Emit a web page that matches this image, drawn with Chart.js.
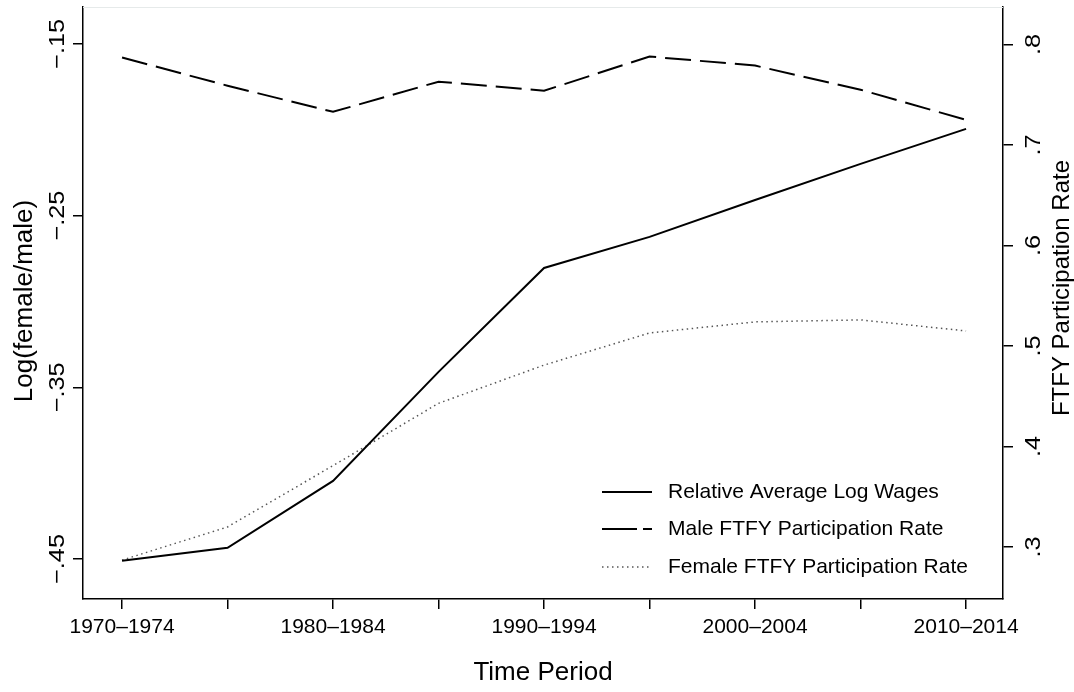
<!DOCTYPE html>
<html>
<head>
<meta charset="utf-8">
<script src="https://cdn.jsdelivr.net/npm/chart.js@4.4.1/dist/chart.umd.min.js"></script>
<style>
  html, body { margin: 0; padding: 0; background: #fff; }
  canvas { display: block; }
</style>
</head>
<body>
<canvas id="gapChart" width="1074" height="692"></canvas>
<script>
const periods = ['1970–1974', '1975–1979', '1980–1984', '1985–1989', '1990–1994',
                 '1995–1999', '2000–2004', '2005–2009', '2010–2014'];

// log(female/male) average wage ratio, left axis
const wageGap = [-0.451, -0.4435, -0.4045, -0.341, -0.2805, -0.2624, -0.2409, -0.2199, -0.1995];

// full-time full-year participation rates, right axis
const maleRate = [0.787, 0.759, 0.733, 0.763, 0.754, 0.788, 0.779, 0.755, 0.725];
const femaleRate = [0.287, 0.320, 0.381, 0.443, 0.481, 0.513, 0.524, 0.526, 0.515];

const leftTicks = [-0.45, -0.35, -0.25, -0.15];
const rightTicks = [0.3, 0.4, 0.5, 0.6, 0.7, 0.8];

const FONT = '"Liberation Sans", Arial, Helvetica, sans-serif';

const points = arr => arr.map((v, i) => ({ x: i, y: v }));
const fmt = v => {
  const s = Math.abs(v).toFixed(2).replace(/0$/, '').replace(/^0/, '');
  return (v < 0 ? '\u2212' : '') + s;
};

// tick labels, axis titles and the legend are drawn by hand (rotated text, legend inside the plot)
const stataText = {
  id: 'stataText',
  afterDraw(chart) {
    const { ctx, chartArea, scales } = chart;
    ctx.save();
    ctx.fillStyle = '#000';

    // faint outline across the top of the plot region
    ctx.strokeStyle = '#e6eaea';
    ctx.lineWidth = 1;
    ctx.beginPath();
    ctx.moveTo(chartArea.left, chartArea.top + 0.5);
    ctx.lineTo(chartArea.right, chartArea.top + 0.5);
    ctx.stroke();

    // vertical text reading bottom to top; stretch widens it along the text
    const vtext = (txt, x, y, size, stretch = 1) => {
      ctx.save();
      ctx.translate(x, y);
      ctx.rotate(-Math.PI / 2);
      ctx.scale(stretch, 1);
      ctx.font = size + 'px ' + FONT;
      ctx.textAlign = 'center';
      ctx.textBaseline = 'alphabetic';
      ctx.fillText(txt, 0, 0);
      ctx.restore();
    };

    leftTicks.forEach(v => vtext(fmt(v), 64, scales.y.getPixelForValue(v), 22, 1.15));
    rightTicks.forEach(v => vtext(fmt(v), 1040, scales.y1.getPixelForValue(v), 22, 1.15));

    vtext('Log(female/male)', 32, 301, 26);
    vtext('FTFY Participation Rate', 1069, 288, 24);

    ctx.font = '26px ' + FONT;
    ctx.textAlign = 'center';
    ctx.textBaseline = 'alphabetic';
    ctx.fillText('Time Period', 543, 680);

    // legend
    const rows = [492, 529, 567];
    ctx.font = '21px ' + FONT;
    ctx.textAlign = 'left';
    ctx.textBaseline = 'middle';
    chart.data.datasets.forEach((ds, i) => {
      const y = rows[i];
      ctx.strokeStyle = ds.borderColor;
      ctx.lineWidth = ds.borderWidth;
      ctx.beginPath();
      if (ds.legendDash) ctx.setLineDash(ds.legendDash);
      ctx.moveTo(602, y);
      ctx.lineTo(652, y);
      ctx.stroke();
      ctx.setLineDash([]);
      ctx.fillStyle = '#000';
      ctx.fillText(ds.label, 668, y);
    });
    ctx.restore();
  }
};

const axisGrid = { display: true, drawOnChartArea: false, drawTicks: true, tickLength: 10, color: '#000', lineWidth: 1.5 };
const axisBorder = { display: true, color: '#000', width: 1.5 };

new Chart(document.getElementById('gapChart'), {
  type: 'line',
  data: {
    datasets: [{
      label: 'Relative Average Log Wages',
      data: points(wageGap),
      yAxisID: 'y',
      borderColor: '#000',
      borderWidth: 2,
      pointRadius: 0,
      tension: 0
    }, {
      label: 'Male FTFY Participation Rate',
      data: points(maleRate),
      yAxisID: 'y1',
      borderColor: '#000',
      borderWidth: 2,
      borderDash: [26, 9],
      legendDash: [35, 6, 9, 100],
      pointRadius: 0,
      tension: 0
    }, {
      label: 'Female FTFY Participation Rate',
      data: points(femaleRate),
      yAxisID: 'y1',
      borderColor: '#555',
      borderWidth: 1.5,
      borderDash: [1.5, 3.5],
      legendDash: [1.5, 3.5],
      pointRadius: 0,
      tension: 0
    }]
  },
  options: {
    responsive: false,
    animation: false,
    layout: { padding: { top: 7 } },
    plugins: {
      legend: { display: false },
      tooltip: { enabled: false }
    },
    scales: {
      x: {
        type: 'linear',
        min: -0.37,
        max: 8.35,
        afterBuildTicks: s => { s.ticks = periods.map((_, i) => ({ value: i })); },
        afterFit: s => { s.height = 93; },
        ticks: {
          autoSkip: false,
          maxRotation: 0,
          padding: 6,
          color: '#000',
          font: { family: FONT, size: 21 },
          callback: v => (v % 2 === 0 ? periods[v] : '')
        },
        grid: axisGrid,
        border: axisBorder
      },
      y: {
        position: 'left',
        min: -0.4733,
        max: -0.1285,
        afterBuildTicks: s => { s.ticks = leftTicks.map(v => ({ value: v })); },
        afterFit: s => { s.width = 83; },
        ticks: { display: false },
        grid: axisGrid,
        border: axisBorder
      },
      y1: {
        position: 'right',
        min: 0.2483,
        max: 0.8373,
        afterBuildTicks: s => { s.ticks = rightTicks.map(v => ({ value: v })); },
        afterFit: s => { s.width = 71; },
        ticks: { display: false },
        grid: axisGrid,
        border: axisBorder
      }
    }
  },
  plugins: [stataText]
});
</script>
</body>
</html>
